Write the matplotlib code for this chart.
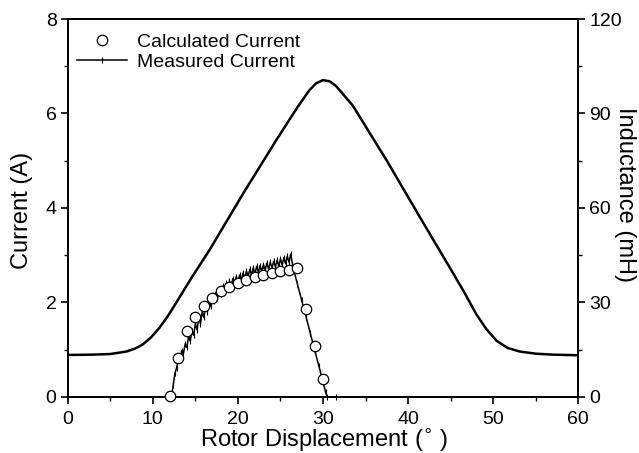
import matplotlib
matplotlib.use("Agg")
import matplotlib.pyplot as plt
from matplotlib.ticker import MultipleLocator

plt.rcParams['font.family'] = ['Liberation Sans', 'DejaVu Sans']

# ---------- data ----------
# inductance profile (mH) vs rotor displacement (deg)
ind_x = [0, 3, 5, 6.9, 7.9, 8.8, 9.8, 10.8, 11.8, 12.75, 14.5, 16.7, 20.6, 24.5, 27.0,
         28.4, 29.2, 30.0, 30.8, 31.5, 32.3, 33.5, 37.5, 41.4, 45.3, 46.6, 48.0, 49.2,
         50.4, 51.7, 53.1, 55, 57, 60]
ind_y = [13.3, 13.4, 13.6, 14.4, 15.3, 16.6, 18.9, 22.0, 25.8, 29.9, 37.6, 46.8, 64.5, 81.5, 92.0,
         97.4, 99.6, 100.6, 100.2, 98.8, 96.3, 92.5, 75.0, 57.0, 39.2, 33.2, 26.3, 21.5,
         17.8, 15.5, 14.4, 13.7, 13.4, 13.2]

# calculated current (A)
calc_x = [12, 13, 14, 15, 16, 17, 18, 19, 20, 21, 22, 23, 24, 25, 26, 27, 28, 29, 30]
calc_y = [0.02, 0.82, 1.39, 1.70, 1.93, 2.10, 2.24, 2.32, 2.41, 2.48, 2.53, 2.59,
          2.63, 2.66, 2.68, 2.73, 1.87, 1.07, 0.37]

# measured current (A), with chopping ripple
meas_x = [0, 12.2, 12.4, 12.6, 12.8, 13.0, 13.2, 13.4, 13.6, 13.8, 14.0, 14.2, 14.4, 14.6, 14.8,
          15.0, 15.2, 15.4, 15.6, 15.8, 16.0, 16.2, 16.4, 16.6, 16.8, 17.0, 17.2, 17.4,
          17.6, 17.8, 18.0, 18.2, 18.4, 18.6, 18.8, 19.0, 19.2, 19.4, 19.6, 19.8, 20.0,
          20.2, 20.4, 20.6, 20.8, 21.0, 21.2, 21.4, 21.6, 21.8, 22.0, 22.2, 22.4, 22.6,
          22.8, 23.0, 23.2, 23.4, 23.6, 23.8, 24.0, 24.2, 24.4, 24.6, 24.8, 25.0, 25.2,
          25.4, 25.6, 25.8, 26.0, 26.2, 26.5, 27.0, 27.5, 28.0, 28.5, 29.0, 29.5, 30.0,
          30.3, 30.5, 31.5]
meas_y = [0.0, 0.0, 0.25, 0.50, 0.62, 0.80, 0.78, 0.98, 0.92, 1.12, 1.05, 1.28, 1.18, 1.40, 1.30,
          1.55, 1.42, 1.68, 1.55, 1.80, 1.68, 1.92, 1.80, 2.02, 1.92, 2.12, 2.02, 2.20,
          2.10, 2.28, 2.18, 2.34, 2.24, 2.40, 2.30, 2.45, 2.35, 2.50, 2.40, 2.54, 2.44,
          2.58, 2.48, 2.62, 2.52, 2.66, 2.55, 2.70, 2.58, 2.73, 2.61, 2.76, 2.64, 2.78,
          2.66, 2.80, 2.68, 2.83, 2.71, 2.85, 2.73, 2.87, 2.75, 2.89, 2.77, 2.92, 2.79,
          2.95, 2.82, 2.98, 2.85, 3.02, 2.73, 2.38, 2.04, 1.70, 1.35, 1.00, 0.66, 0.32,
          0.10, 0.0, 0.0]

# ---------- figure ----------
fig = plt.figure(figsize=(6.39, 4.53), dpi=100)
ax = fig.add_axes([0.106, 0.124, 0.799, 0.834])
ax2 = ax.twinx()

ax2.plot(ind_x, ind_y, color='black', lw=1.8, zorder=2)

ax.plot(meas_x, meas_y, color='black', lw=1.1, marker='|', markersize=5,
        markeredgewidth=0.8, label='Measured Current', zorder=3, clip_on=False)
ax.plot(calc_x, calc_y, linestyle='none', marker='o', markersize=7.5,
        markerfacecolor='white', markeredgecolor='black', markeredgewidth=0.9,
        label='Calculated Current', zorder=4, clip_on=False)
ax.set_zorder(ax2.get_zorder() + 1)
ax.patch.set_visible(False)

ax.set_xlim(0, 60)
ax.set_ylim(0, 8)
ax2.set_ylim(0, 120)

ax.xaxis.set_major_locator(MultipleLocator(10))
ax.xaxis.set_minor_locator(MultipleLocator(5))
ax.yaxis.set_major_locator(MultipleLocator(2))
ax.yaxis.set_minor_locator(MultipleLocator(1))
ax2.yaxis.set_major_locator(MultipleLocator(30))
ax2.yaxis.set_minor_locator(MultipleLocator(15))

for a in (ax, ax2):
    a.tick_params(which='major', direction='out', length=5, width=1.2, labelsize=14, pad=3)
    a.tick_params(which='minor', direction='out', length=3, width=1.0)
    for s in a.spines.values():
        s.set_linewidth(1.3)
ax.tick_params(axis='x', which='major', pad=5)

# axis titles
fig.text(0.507, 0.013, r'Rotor Displacement ($^{\circ}$ )', fontsize=17,
         ha='center', va='baseline')
fig.text(0.034, 0.536, 'Current (A)', fontsize=17, rotation=90, ha='center', va='center')
fig.text(0.978, 0.570, 'Inductance (mH)', fontsize=17, rotation=270, ha='center', va='center')

handles, labels = ax.get_legend_handles_labels()
ax.legend(handles[::-1], labels[::-1], loc='upper left', bbox_to_anchor=(0.018, 0.963),
          frameon=False, fontsize=14, handlelength=2.6, handletextpad=0.5,
          borderaxespad=0, borderpad=0, labelspacing=0.15)

fig.savefig('out.png', dpi=100)
